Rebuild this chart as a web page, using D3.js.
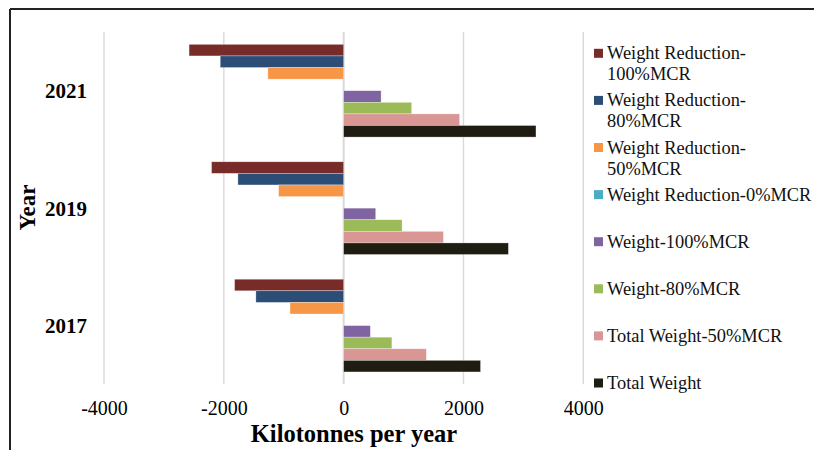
<!DOCTYPE html>
<html>
<head>
<meta charset="utf-8">
<script src="https://cdn.jsdelivr.net/npm/d3@7"></script>
<style>
  body { margin: 0; background: #fff; }
  svg text { font-family: "Liberation Serif", "Times New Roman", serif; }
</style>
</head>
<body>
<svg></svg>
<script>
// data (kilotonnes per year)
var years = ["2021", "2019", "2017"];
var seriesNames = [
  "Weight Reduction-100%MCR",
  "Weight Reduction-80%MCR",
  "Weight Reduction-50%MCR",
  "Weight Reduction-0%MCR",
  "Weight-100%MCR",
  "Weight-80%MCR",
  "Total Weight-50%MCR",
  "Total Weight"
];
var legendLines = [
  ["Weight Reduction-", "100%MCR"],
  ["Weight Reduction-", "80%MCR"],
  ["Weight Reduction-", "50%MCR"],
  ["Weight Reduction-0%MCR"],
  ["Weight-100%MCR"],
  ["Weight-80%MCR"],
  ["Total Weight-50%MCR"],
  ["Total Weight"]
];
var colors = ["#772c2a", "#2c4d75", "#f79646", "#4bacc6", "#8064a2", "#9bbb59", "#da9694", "#1f1d12"];
// one array per year, same order as seriesNames
var values2021 = [-2580, -2060, -1265, 0, 625, 1135, 1935, 3210];
var values2019 = [-2205, -1765, -1085, 0, 535, 975, 1665, 2750];
var values2017 = [-1820, -1465, -895, 0, 445, 805, 1380, 2285];
var xTicks = [-4000, -2000, 0, 2000, 4000];

var valuesByYear = { "2021": values2021, "2019": values2019, "2017": values2017 };
var serif = "'Liberation Serif', 'Times New Roman', serif";

window.onload = function() {
  var width = 814;
  var height = 450;

  var svg = d3.select("svg")
    .attr("width", width)
    .attr("height", height);

  // frame (only top and left edges show in the picture)
  svg.append("line")
    .attr("x1", 10).attr("x2", width).attr("y1", 9).attr("y2", 9)
    .attr("stroke", "#222").attr("stroke-width", 2);
  svg.append("line")
    .attr("x1", 10).attr("x2", 10).attr("y1", 9).attr("y2", height)
    .attr("stroke", "#222").attr("stroke-width", 2);

  var x = d3.scaleLinear()
    .domain([-4000, 4000])
    .range([104, 583.3]);

  var y0 = d3.scaleBand()
    .domain(years)
    .range([32, 384.3]);

  var y1 = d3.scaleBand()
    .domain(seriesNames)
    .range([0, y0.bandwidth()])
    .paddingOuter(1.065);

  var color = d3.scaleOrdinal().domain(seriesNames).range(colors);

  // grid lines
  svg.append("g").selectAll("line")
    .data(xTicks)
    .enter()
    .append("line")
    .attr("x1", function(d) { return x(d); })
    .attr("x2", function(d) { return x(d); })
    .attr("y1", y0.range()[0])
    .attr("y2", y0.range()[1])
    .attr("stroke", "#d9d9d9")
    .attr("stroke-width", function(d) { return d === 0 ? 2 : 1.4; });

  // bars
  var groups = svg.append("g").selectAll("g")
    .data(years)
    .enter()
    .append("g")
    .attr("transform", function(d) { return "translate(0," + y0(d) + ")"; });

  groups.selectAll("rect")
    .data(function(yr) {
      return seriesNames.map(function(s, i) {
        return { series: s, value: valuesByYear[yr][i] };
      });
    })
    .enter()
    .append("rect")
    .attr("x", function(d) { return x(Math.min(0, d.value)); })
    .attr("y", function(d) { return y1(d.series); })
    .attr("width", function(d) { return Math.abs(x(d.value) - x(0)); })
    .attr("height", y1.bandwidth())
    .attr("fill", function(d) { return color(d.series); })
    .attr("stroke", "#fff")
    .attr("stroke-opacity", 0.5)
    .attr("stroke-width", 0.6);

  // x axis tick labels
  var xAxis = d3.axisBottom(x)
    .tickValues(xTicks)
    .tickSize(0)
    .tickPadding(0)
    .tickFormat(d3.format("d"));

  var xg = svg.append("g")
    .attr("transform", "translate(0,400)")
    .call(xAxis);
  xg.attr("font-family", null);
  xg.select(".domain").remove();
  xg.selectAll("text")
    .attr("dy", "0.75em")
    .style("font-family", serif)
    .style("font-size", "20px")
    .attr("fill", "#000")
    .text(function(d) { return d < 0 ? "-" + Math.abs(d) : d; });

  // year labels
  var yAxis = d3.axisLeft(y0).tickSize(0).tickPadding(0);
  var yg = svg.append("g")
    .attr("transform", "translate(87,0)")
    .call(yAxis);
  yg.attr("font-family", null);
  yg.select(".domain").remove();
  yg.selectAll("text")
    .attr("dy", "0.35em")
    .style("font-family", serif)
    .style("font-size", "21px")
    .style("font-weight", "bold")
    .attr("fill", "#000");

  // axis titles
  svg.append("text")
    .attr("x", 354)
    .attr("y", 442)
    .attr("text-anchor", "middle")
    .style("font-family", serif)
    .style("font-size", "24.5px")
    .style("font-weight", "bold")
    .text("Kilotonnes per year");

  svg.append("text")
    .attr("transform", "translate(35,207.5) rotate(-90)")
    .attr("text-anchor", "middle")
    .style("font-family", serif)
    .style("font-size", "23px")
    .style("font-weight", "bold")
    .text("Year");

  // legend
  var legend = svg.append("g").selectAll("g")
    .data(seriesNames)
    .enter()
    .append("g")
    .attr("transform", function(d, i) { return "translate(594," + (53.3 + i * 47.1) + ")"; });

  legend.append("rect")
    .attr("x", 0)
    .attr("y", -4.5)
    .attr("width", 9)
    .attr("height", 9)
    .attr("fill", function(d) { return color(d); });

  legend.append("text")
    .attr("x", 13)
    .attr("y", 6)
    .style("font-family", serif)
    .style("font-size", "18.4px")
    .attr("fill", "#111")
    .selectAll("tspan")
    .data(function(d, i) { return legendLines[i]; })
    .enter()
    .append("tspan")
    .attr("x", 13)
    .attr("dy", function(d, j) { return j === 0 ? 0 : 21; })
    .text(function(d) { return d; });
};
</script>
</body>
</html>
